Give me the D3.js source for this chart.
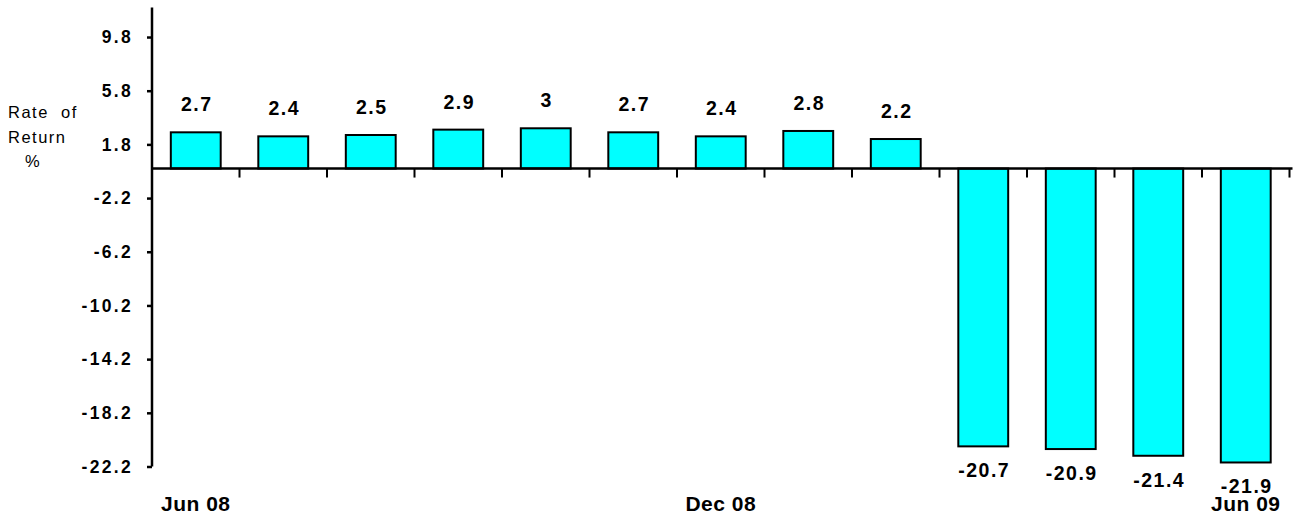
<!DOCTYPE html>
<html>
<head>
<meta charset="utf-8">
<script src="https://cdn.jsdelivr.net/npm/d3@7"></script>
<style>
  html, body { margin: 0; padding: 0; background: #fff; }
  svg { display: block; font-family: "Liberation Sans", Arial, sans-serif; }
</style>
</head>
<body>
<svg id="chart" width="1299" height="518"></svg>
<script>
const categories = ["Jun 08","Jul 08","Aug 08","Sep 08","Oct 08","Nov 08","Dec 08","Jan 09","Feb 09","Mar 09","Apr 09","May 09","Jun 09"];
const values = [2.7, 2.4, 2.5, 2.9, 3, 2.7, 2.4, 2.8, 2.2, -20.7, -20.9, -21.4, -21.9];
const valueLabels = ["2.7","2.4","2.5","2.9","3","2.7","2.4","2.8","2.2","-20.7","-20.9","-21.4","-21.9"];
const yTicks = [9.8, 5.8, 1.8, -2.2, -6.2, -10.2, -14.2, -18.2, -22.2];
const xLabelShown = ["Jun 08", "Dec 08", "Jun 09"];
const yTitle = ["Rate  of", "Return", "%"];

const svg = d3.select("#chart");
const mLeft = 152, mRight = 1289.5, mTop = 7.5, mBottom = 466.5;

const x = d3.scaleBand().domain(categories).range([mLeft, mRight]).paddingInner(0.43).paddingOuter(0.215);
const y = d3.scaleLinear().domain([-22.2, 12.0]).range([mBottom, mTop]);

// bars
svg.append("g").selectAll("rect").data(values).join("rect")
  .attr("x", (d, i) => x(categories[i]))
  .attr("width", x.bandwidth())
  .attr("y", d => Math.min(y(d), y(0)))
  .attr("height", d => Math.abs(y(d) - y(0)))
  .attr("fill", "#00FFFF")
  .attr("stroke", "#000")
  .attr("stroke-width", 2);

// value labels
svg.append("g").selectAll("text").data(values).join("text")
  .attr("x", (d, i) => x(categories[i]) + x.bandwidth() / 2 + 1)
  .attr("y", d => d >= 0 ? y(d) - 21 : y(d) + 31)
  .attr("text-anchor", "middle")
  .attr("font-size", 19.5)
  .attr("font-weight", "bold")
  .attr("letter-spacing", 1.5)
  .attr("fill", "#000")
  .text((d, i) => valueLabels[i]);

// y axis
const yAxis = d3.axisLeft(y).tickValues(yTicks).tickSize(5).tickPadding(14).tickFormat(d => d.toFixed(1));
const gy = svg.append("g").attr("transform", `translate(${mLeft},0)`).call(yAxis);
gy.select(".domain").attr("stroke", "#000").attr("stroke-width", 2.5).attr("d", `M0,${mTop}V${mBottom}`);
gy.selectAll(".tick line").attr("stroke", "#000").attr("stroke-width", 2.5);
gy.selectAll(".tick text")
  .attr("font-family", "Liberation Sans, Arial, sans-serif")
  .attr("font-size", 17.5)
  .attr("font-weight", "bold")
  .attr("letter-spacing", 2.3)
  .attr("fill", "#000");

// x axis at zero line
const boundaries = d3.range(categories.length + 1).map(i => mLeft + i * x.step());
const gx = svg.append("g");
gx.append("line")
  .attr("x1", mLeft).attr("x2", mRight + 3)
  .attr("y1", y(0)).attr("y2", y(0))
  .attr("stroke", "#000").attr("stroke-width", 2.5);
gx.selectAll("line.tk").data(boundaries.slice(1)).join("line")
  .attr("class", "tk")
  .attr("x1", d => d).attr("x2", d => d)
  .attr("y1", y(0)).attr("y2", y(0) + 9)
  .attr("stroke", "#000").attr("stroke-width", 2);

// x labels
svg.append("g").selectAll("text").data(xLabelShown).join("text")
  .attr("x", d => x(d) + x.bandwidth() / 2)
  .attr("y", 511)
  .attr("text-anchor", "middle")
  .attr("font-size", 21)
  .attr("font-weight", "bold")
  .attr("letter-spacing", 0.5)
  .attr("fill", "#000")
  .text(d => d);

// y title
svg.append("g").selectAll("text").data(yTitle).join("text")
  .attr("x", (d, i) => i === 2 ? 25 : 8)
  .attr("y", (d, i) => 118 + i * 24.5)
  .attr("font-size", 16.5)
  .attr("letter-spacing", 1.5)
  .attr("xml:space", "preserve")
  .style("white-space", "pre")
  .attr("fill", "#000")
  .text(d => d);
</script>
</body>
</html>
